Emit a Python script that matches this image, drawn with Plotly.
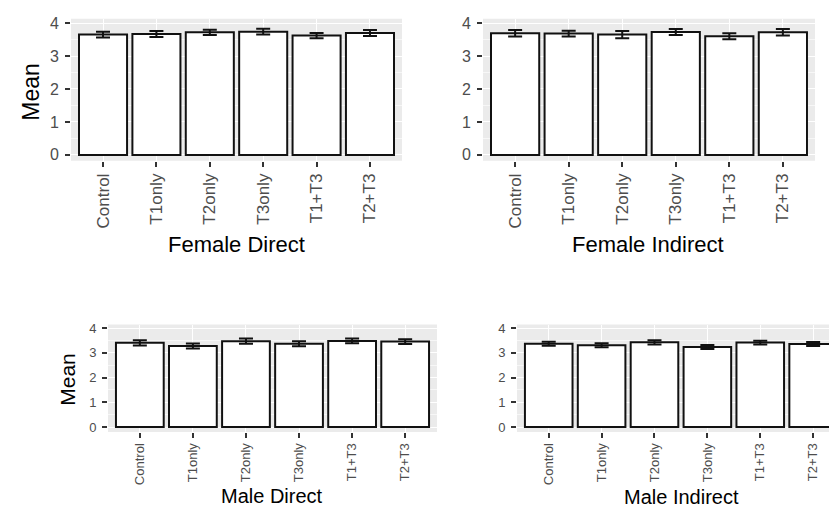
import plotly.graph_objects as go

# Treatment groups shown on every panel
groups = ["Control", "T1only", "T2only", "T3only", "T1+T3", "T2+T3"]

# Group means and standard errors for each panel
female_direct_mean = [3.65, 3.67, 3.72, 3.74, 3.62, 3.70]
female_direct_se = [0.09, 0.09, 0.08, 0.09, 0.08, 0.09]

female_indirect_mean = [3.69, 3.68, 3.65, 3.73, 3.60, 3.72]
female_indirect_se = [0.10, 0.09, 0.11, 0.09, 0.09, 0.10]

male_direct_mean = [3.40, 3.27, 3.47, 3.36, 3.48, 3.45]
male_direct_se = [0.11, 0.10, 0.11, 0.10, 0.10, 0.10]

male_indirect_mean = [3.36, 3.30, 3.42, 3.23, 3.41, 3.35]
male_indirect_se = [0.08, 0.08, 0.09, 0.08, 0.08, 0.08]

y_ticks = [0, 1, 2, 3, 4]

W, H = 829, 509
SANS = "Liberation Sans, Arial, sans-serif"

# pixel box [left, right, top, bottom], axis ranges, fonts and title positions per panel
panels = [
    dict(mean=female_direct_mean, se=female_direct_se, label="Female Direct",
         box=(71, 402, 15, 159), xr=[-0.6, 5.6], yr=[-0.18, 4.13],
         ytitle=(31, 89, 23), xfont=17, yfont=16, xtitle=(236, 244, 22)),
    dict(mean=female_indirect_mean, se=female_indirect_se, label="Female Indirect",
         box=(483, 815, 15, 159), xr=[-0.6, 5.6], yr=[-0.18, 4.13],
         ytitle=None, xfont=17, yfont=16, xtitle=(648, 244, 22)),
    dict(mean=male_direct_mean, se=male_direct_se, label="Male Direct",
         box=(108, 437, 325, 434), xr=[-0.6, 5.6], yr=[-0.2, 4.14],
         ytitle=(68, 381, 21), xfont=13, yfont=13, xtitle=(272, 499, 20)),
    dict(mean=male_indirect_mean, se=male_indirect_se, label="Male Indirect",
         box=(517, 829, 325, 434), xr=[-0.6, 5.3], yr=[-0.2, 4.14],
         ytitle=None, xfont=13, yfont=13, xtitle=(681, 500, 20)),
]

fig = go.Figure()
annotations = []
layout = {}

for i, p in enumerate(panels, start=1):
    xa = "x" if i == 1 else f"x{i}"
    ya = "y" if i == 1 else f"y{i}"
    fig.add_trace(go.Bar(
        x=groups, y=p["mean"], xaxis=xa, yaxis=ya, width=0.9,
        marker=dict(color="white", line=dict(color="#111111", width=2)),
        error_y=dict(type="data", array=p["se"], color="#111111",
                     thickness=2, width=7),
        showlegend=False,
    ))
    l, r, t, b = p["box"]
    xkey = "xaxis" if i == 1 else f"xaxis{i}"
    ykey = "yaxis" if i == 1 else f"yaxis{i}"
    layout[xkey] = dict(
        domain=[l / W, r / W], anchor=ya, type="category",
        categoryorder="array", categoryarray=groups, range=p["xr"],
        showgrid=True, gridcolor="white", gridwidth=1.1,
        ticks="outside", ticklen=5, tickwidth=1.5, tickcolor="#333333",
        tickangle=-90, tickfont=dict(family=SANS, size=p["xfont"], color="#4D4D4D"),
        showline=False, zeroline=False, fixedrange=True,
    )
    layout[ykey] = dict(
        domain=[1 - b / H, 1 - t / H], anchor=xa, range=p["yr"],
        tickvals=y_ticks, showgrid=True, gridcolor="white", gridwidth=1.1,
        minor=dict(dtick=0.5, showgrid=True, gridcolor="#F7F7F7", gridwidth=0.5),
        ticks="outside", ticklen=5, tickwidth=1.5, tickcolor="#333333",
        ticklabelstandoff=3,
        tickfont=dict(family=SANS, size=p["yfont"], color="#4D4D4D"),
        showline=False, zeroline=False, fixedrange=True,
    )
    # plot panel background
    fig.add_shape(type="rect", xref="paper", yref="paper",
                  x0=l / W, x1=r / W, y0=1 - b / H, y1=1 - t / H,
                  fillcolor="#EBEBEB", line=dict(width=0), layer="below")
    cx, cy, fs = p["xtitle"]
    annotations.append(dict(text=p["label"], x=cx / W, y=1 - cy / H, xref="paper", yref="paper",
                            xanchor="center", yanchor="middle", showarrow=False,
                            font=dict(family=SANS, size=fs, color="black")))
    if p["ytitle"]:
        tx, ty, fs = p["ytitle"]
        annotations.append(dict(text="Mean", x=tx / W, y=1 - ty / H, xref="paper", yref="paper",
                                xanchor="center", yanchor="middle", showarrow=False, textangle=-90,
                                font=dict(family=SANS, size=fs, color="black")))

fig.update_layout(
    width=W, height=H, margin=dict(l=0, r=0, t=0, b=0),
    paper_bgcolor="white", plot_bgcolor="rgba(0,0,0,0)",
    annotations=annotations, bargap=0.1, **layout,
)

fig.write_html("out.html")
